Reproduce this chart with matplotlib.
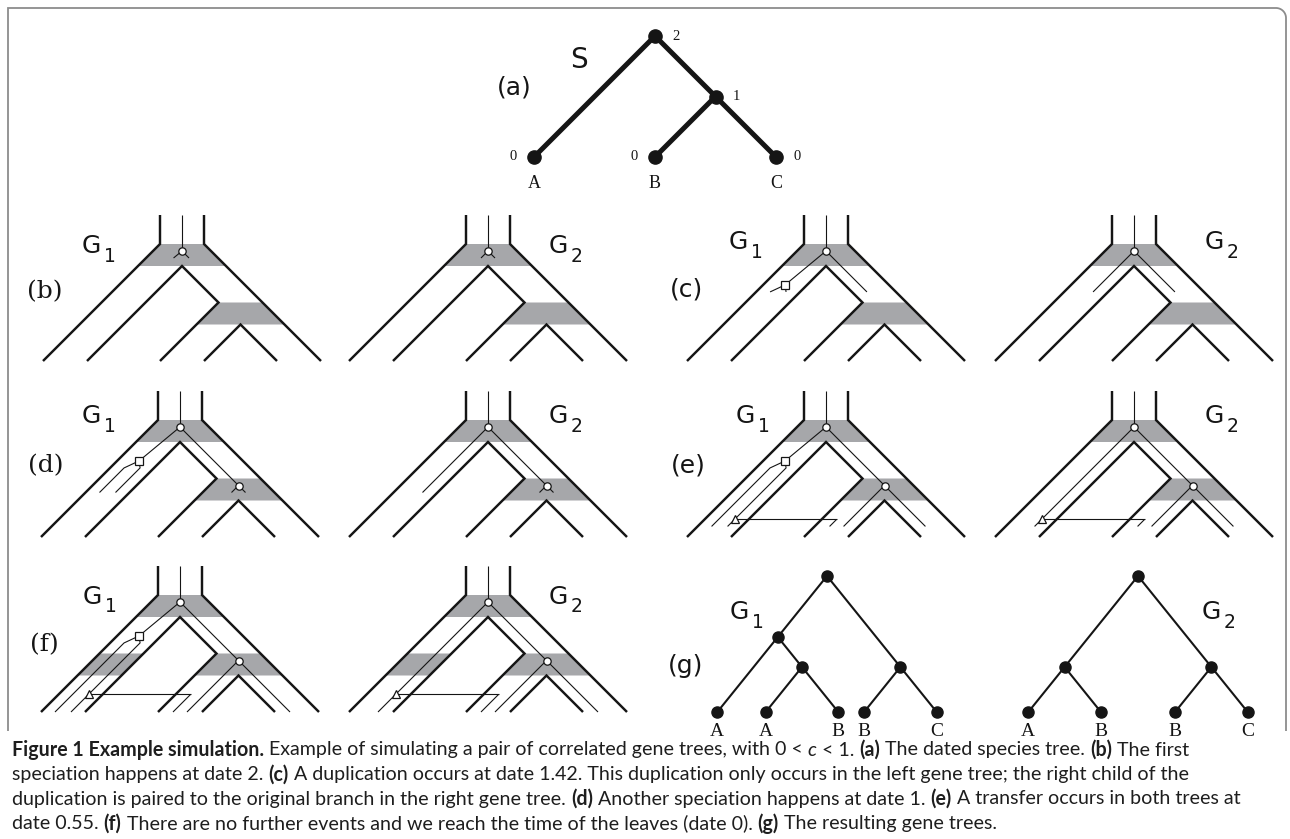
import numpy as np
import matplotlib.pyplot as plt
from matplotlib.patches import Polygon

# species tree S: node, parent, date, horizontal place (date units, 45 degree branches)
sp_nodes = ['R', 'N1', 'A', 'B', 'C']
sp_parent = [None, 'R', 'R', 'N1', 'N1']
sp_date = [2, 1, 0, 0, 0]
sp_pos = [0, 1, -2, 0, 2]

# dates of the simulated events
dup_date = 1.42
transfer_date = 0.55      # value given in the caption
transfer_drawn = 0.42     # the original figure draws it a bit lower

# panels (b)-(f) and the date reached in each of them
panel_tags = ['(b)', '(c)', '(d)', '(e)', '(f)']
panel_now = [2, 1.42, 1, transfer_drawn, 0]

# resulting gene trees (g)
g1_nodes = ['r', 'd', 's2', 'a1', 's1', 'a2', 'b1', 'b2', 'c']
g1_parent = [None, 'r', 'r', 'd', 'd', 's1', 's1', 's2', 's2']
g1_side = [0, -1, 1, -1, 1, -1, 1, -1, 1]
g1_date = [2, 1.42, 1, 0, 1, 0, 0, 0, 0]
g1_label = ['', '', '', 'A', '', 'A', 'B', 'B', 'C']

g2_nodes = ['r', 's1', 's2', 'a', 'b1', 'b2', 'c']
g2_parent = [None, 'r', 'r', 's1', 's1', 's2', 's2']
g2_side = [0, -1, 1, -1, 1, -1, 1]
g2_date = [2, 1, 1, 0, 0, 0, 0]
g2_label = ['', '', '', 'A', 'B', 'B', 'C']

caption = [
    [("Figure 1 Example simulation.", 'bold', 'normal'),
     (" Example of simulating a pair of correlated gene trees, with 0 < ", 'normal', 'normal'),
     ("c", 'normal', 'italic'), (" < 1. ", 'normal', 'normal'),
     ("(a)", 'bold', 'normal'), (" The dated species tree. ", 'normal', 'normal'),
     ("(b)", 'bold', 'normal'), (" The first", 'normal', 'normal')],
    [("speciation happens at date 2. ", 'normal', 'normal'), ("(c)", 'bold', 'normal'),
     (" A duplication occurs at date 1.42. This duplication only occurs in the left gene tree; the right child of the", 'normal', 'normal')],
    [("duplication is paired to the original branch in the right gene tree. ", 'normal', 'normal'),
     ("(d)", 'bold', 'normal'), (" Another speciation happens at date 1. ", 'normal', 'normal'),
     ("(e)", 'bold', 'normal'), (" A transfer occurs in both trees at", 'normal', 'normal')],
    [("date 0.55. ", 'normal', 'normal'), ("(f)", 'bold', 'normal'),
     (" There are no further events and we reach the time of the leaves (date 0). ", 'normal', 'normal'),
     ("(g)", 'bold', 'normal'), (" The resulting gene trees.", 'normal', 'normal')],
]

# ---- layout (pixels) ----
U = 58.5          # px per date unit in the tube drawings
HW = 22           # half width of a species tube
GRAY = '#a6a7aa'
INK = '#151515'
panel_rx1 = [182, 826, 180, 826, 180]
panel_rx2 = [488, 1134, 488, 1134, 488]
panel_ry = [244, 244, 420, 420, 595]
tag_xy = [(45, 292), (686, 289), (46, 466), (688, 466), (44, 645)]
g1_lab = [(91, 246), (738, 242), (91, 416), (745, 416), (92, 597)]
g2_lab = [(558, 246), (1214, 242), (558, 416), (1214, 416), (558, 597)]
CAP_FONT = ['Lato', 'DejaVu Sans']
cap_right = [1250, 1232, 1245]   # right ends of the full caption lines

fig = plt.figure(figsize=(12.9, 8.39), dpi=100)
ax = fig.add_axes([0, 0, 1, 1])
ax.set_xlim(0, 1290)
ax.set_ylim(839, 0)
ax.axis('off')


def layout(rx, ry, u):
    return {n: (rx + u * p, ry + u * (2 - d)) for n, p, d in zip(sp_nodes, sp_pos, sp_date)}


def cl(P, child, y):
    par = sp_parent[sp_nodes.index(child)]
    (x0, y0), (x1, y1) = P[par], P[child]
    return x0 + (x1 - x0) * (y - y0) / (y1 - y0)


def line(pts, lw, color=INK, z=3):
    pts = np.array(pts)
    ax.plot(pts[:, 0], pts[:, 1], color=color, lw=lw, solid_capstyle='butt',
            solid_joinstyle='miter', zorder=z)


def clip(pts, ycur):
    if pts[0][1] > ycur + 0.01:
        return None
    out = [pts[0]]
    for p, q in zip(pts[:-1], pts[1:]):
        if q[1] <= ycur:
            out.append(q)
        else:
            t = (ycur - p[1]) / (q[1] - p[1])
            out.append((p[0] + t * (q[0] - p[0]), ycur))
            break
    return out


def band(pts):
    ax.add_patch(Polygon(pts, closed=True, facecolor=GRAY, edgecolor='none', zorder=1))


def gene_panel(rx, ry, now, first, leaf_band):
    P = layout(rx, ry, U)
    R, N, A, B, C = (P[k] for k in sp_nodes)
    top = R[1] - 29
    leaf = A[1]
    # grey layers at the speciation dates
    for (x, y) in (R, N):
        band([(x - HW, y), (x + HW, y), (x + 2 * HW, y + HW), (x - 2 * HW, y + HW)])
    if leaf_band:
        y = N[1]
        xa = cl(P, 'A', y)
        band([(xa - HW, y), (xa + HW, y), (xa, y + HW), (xa - 2 * HW, y + HW)])
    # tube walls
    lw_w = 1.75
    line([(R[0] - HW, top), (R[0] - HW, R[1]), (A[0] - HW, leaf)], lw_w, z=2)
    line([(R[0] + HW, top), (R[0] + HW, R[1]), (C[0] + HW, leaf)], lw_w, z=2)
    line([(A[0] + HW, leaf), (R[0], R[1] + HW), (N[0] - HW, N[1]), (B[0] - HW, leaf)], lw_w, z=2)
    line([(B[0] + HW, leaf), (N[0], N[1] + HW), (C[0] - HW, leaf)], lw_w, z=2)

    # gene lineages
    ycur = min(R[1] + U * (2 - now) + 14, leaf)
    yD = R[1] + U * (2 - dup_date)
    yT = R[1] + U * (2 - transfer_drawn)
    circ_r = (R[0], R[1] + 7)
    circ_n = (N[0], N[1] + 7)
    sq = (cl(P, 'A', yD + 7), yD + 7)
    yt = yT + 7
    lins = [[(R[0], top), circ_r], [circ_r, circ_n],
            [circ_n, (B[0] + 7, leaf)], [circ_n, (C[0] - 7, leaf)],
            [(cl(P, 'B', yt) - 7, yt), (B[0] - 7, leaf)]]
    if first:
        lins += [[circ_r, sq],
                 [sq, (cl(P, 'A', yD + 14) - 8, yD + 14), (A[0] - 8, leaf)],
                 [sq, (cl(P, 'A', yD + 14) + 8, yD + 14), (A[0] + 8, leaf)]]
        tri = (cl(P, 'A', yt) + 8, yt)
    else:
        lins += [[circ_r, (A[0] + 7, leaf)]]
        tri = (cl(P, 'A', yt) + 7, yt)
    for pts in lins:
        c = clip(pts, ycur)
        if c is not None and len(c) > 1:
            line(c, 0.8, z=3)
    mk = dict(mfc='white', mec=INK, mew=0.9, zorder=4, ls='none')
    ax.plot(*circ_r, marker='o', ms=5.3, **mk)
    if first and sq[1] < ycur - 1:
        ax.plot(*sq, marker='s', ms=5.2, **mk)
    if circ_n[1] < ycur - 1:
        ax.plot(*circ_n, marker='o', ms=5.3, **mk)
    if yt < ycur - 1:
        line([tri, (cl(P, 'B', yt) - 7, yt)], 0.8, z=3)
        ax.plot(*tri, marker='^', ms=6, **mk)


def g_label(xy, sub):
    ax.text(xy[0], xy[1], 'G', fontsize=18, family='DejaVu Sans', color=INK,
            ha='center', va='center')
    ax.text(xy[0] + 19, xy[1] + 10, sub, fontsize=13.5, family='DejaVu Sans',
            color=INK, ha='center', va='center')


serif_tags = {'(b)', '(d)', '(f)'}
for i, tag in enumerate(panel_tags):
    gene_panel(panel_rx1[i], panel_ry[i], panel_now[i], True, tag == '(f)')
    gene_panel(panel_rx2[i], panel_ry[i], panel_now[i], False, tag == '(f)')
    g_label(g1_lab[i], '1')
    g_label(g2_lab[i], '2')
    ax.text(*tag_xy[i], tag, fontsize=18, color=INK, ha='center', va='center',
            family='DejaVu Serif' if tag in serif_tags else 'DejaVu Sans')

# ---- (a) species tree ----
Pa = layout(655, 36, 60.5)
for n, par in zip(sp_nodes, sp_parent):
    if par is not None:
        line([Pa[par], Pa[n]], 3.6, z=3)
for n in sp_nodes:
    ax.plot(*Pa[n], marker='o', ms=9.5, color=INK, zorder=4)
side = {'R': 1, 'N1': 1, 'A': -1, 'B': -1, 'C': 1}
for n, d in zip(sp_nodes, sp_date):
    x, y = Pa[n]
    ax.text(x + 21 * side[n], y, str(d), fontsize=10.5, family='Liberation Serif',
            color=INK, ha='center', va='center')
    if d == 0:
        ax.text(x, y + 26, n, fontsize=13, family='Liberation Serif', color=INK,
                ha='center', va='center')
ax.text(579, 60, 'S', fontsize=20, family='DejaVu Sans', color=INK, ha='center', va='center')
ax.text(514, 88, '(a)', fontsize=18, family='DejaVu Sans', color=INK, ha='center', va='center')

# ---- (g) resulting gene trees ----
g_y = {2: 576, 1.42: 637, 1: 667, 0: 712}


def gene_tree(rx, nodes, parent, sidev, dates, labels):
    pos = {}
    for n, par, s, d in zip(nodes, parent, sidev, dates):
        y = g_y[d]
        if par is None:
            pos[n] = (rx, y)
        else:
            px, py = pos[par]
            pos[n] = (px + s * (y - py) / 1.24, y)
            line([pos[par], pos[n]], 1.5, z=3)
    for n, lab in zip(nodes, labels):
        ax.plot(*pos[n], marker='o', ms=8, color=INK, zorder=4)
        if lab:
            ax.text(pos[n][0], pos[n][1] + 20, lab, fontsize=14, family='Liberation Serif',
                    color=INK, ha='center', va='center')


gene_tree(827, g1_nodes, g1_parent, g1_side, g1_date, g1_label)
gene_tree(1138, g2_nodes, g2_parent, g2_side, g2_date, g2_label)
g_label((739, 612), '1')
g_label((1211, 612), '2')
ax.text(686, 666, '(g)', fontsize=18, family='DejaVu Sans', color=INK, ha='center', va='center')

# ---- frame ----
t = np.linspace(0, np.pi / 2, 20)
frame = [(8, 731), (8, 8), (1276, 8)]
frame += [(1276 + 10 * np.sin(a), 18 - 10 * np.cos(a)) for a in t]
frame += [(1286, 731)]
line(frame, 1.3, color='#8c8c8c', z=5)

# ---- caption ----
r = fig.canvas.get_renderer()


def width(s, **kw):
    t1 = ax.text(0, 0, s + '|', **kw)
    w1 = t1.get_window_extent(r).width
    t1.remove()
    t2 = ax.text(0, 0, '|', **kw)
    w2 = t2.get_window_extent(r).width
    t2.remove()
    return w1 - w2


def cap_kw(size, wt, st):
    return dict(fontsize=size, family=CAP_FONT, fontweight=wt, fontstyle=st, color='#1e1e1e')


# size the caption so that its full lines fit where the figure ends them
sizes = []
for runs, right in zip(caption, cap_right):
    w10 = sum(width(txt, **cap_kw(10, wt, st)) for txt, wt, st in runs)
    sizes.append(10 * (right - 12) / w10)
cap_size = min(sizes)

for k, runs in enumerate(caption):
    x = 12
    y = 750 + 24.5 * k
    for txt, wt, st in runs:
        kw = cap_kw(cap_size, wt, st)
        ax.text(x, y, txt, ha='left', va='center', **kw)
        x += width(txt, **kw)

fig.savefig('out.png', dpi=100)
